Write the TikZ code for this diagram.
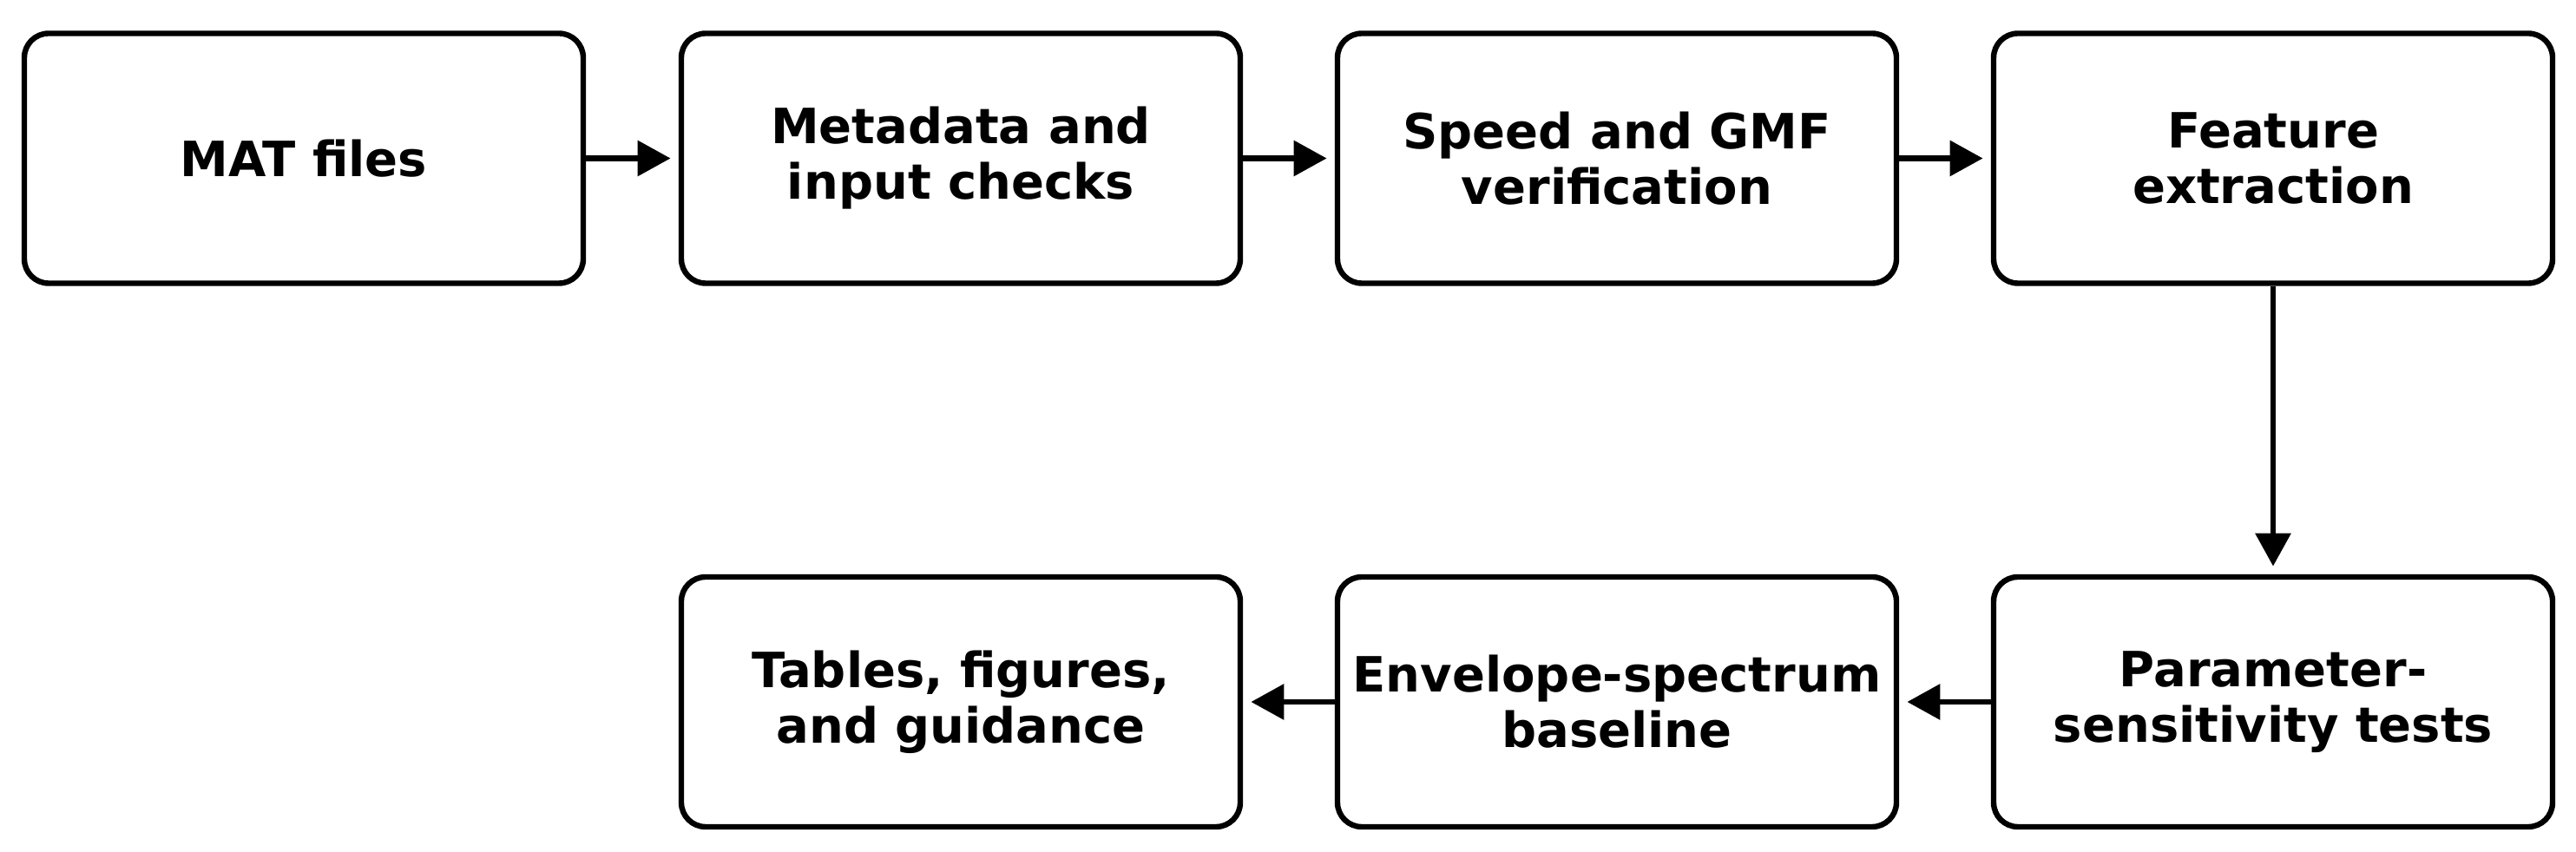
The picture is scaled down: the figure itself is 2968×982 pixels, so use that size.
\documentclass[tikz,border=0pt]{standalone}
\usepackage{fontspec}
\setmainfont{DejaVu Sans}
\usetikzlibrary{arrows.meta}
\begin{document}
\begin{tikzpicture}[x=0.25pt,y=-0.25pt,
  stepbox/.style={draw=black, line width=1.6pt, rounded corners=7pt, fill=white,
    minimum width=161pt, minimum height=72pt, inner sep=0pt, align=center,
    font=\fontsize{14pt}{16pt}\selectfont\bfseries},
  flow/.style={line width=1.6pt, -{Triangle[length=9.5pt,width=10pt]}, shorten >=2.3pt}]
\useasboundingbox (0,0) rectangle (2968,982);
\node[stepbox] (mat)  at (350,182.5)  {MAT files};
\node[stepbox] (meta) at (1107,182.5) {Metadata and\\input checks};
\node[stepbox] (spd)  at (1863,182.5) {Speed and GMF\\verification};
\node[stepbox] (feat) at (2619,182.5) {Feature\\extraction};
\node[stepbox] (par)  at (2619,809)   {Parameter-\\sensitivity tests};
\node[stepbox] (env)  at (1863,809)   {Envelope-spectrum\\baseline};
\node[stepbox] (tab)  at (1107,809)   {Tables, figures,\\and guidance};
\draw[flow] (mat) -- (meta);
\draw[flow] (meta) -- (spd);
\draw[flow] (spd) -- (feat);
\draw[flow] (feat) -- (par);
\draw[flow] (par) -- (env);
\draw[flow] (env) -- (tab);
\end{tikzpicture}
\end{document}
